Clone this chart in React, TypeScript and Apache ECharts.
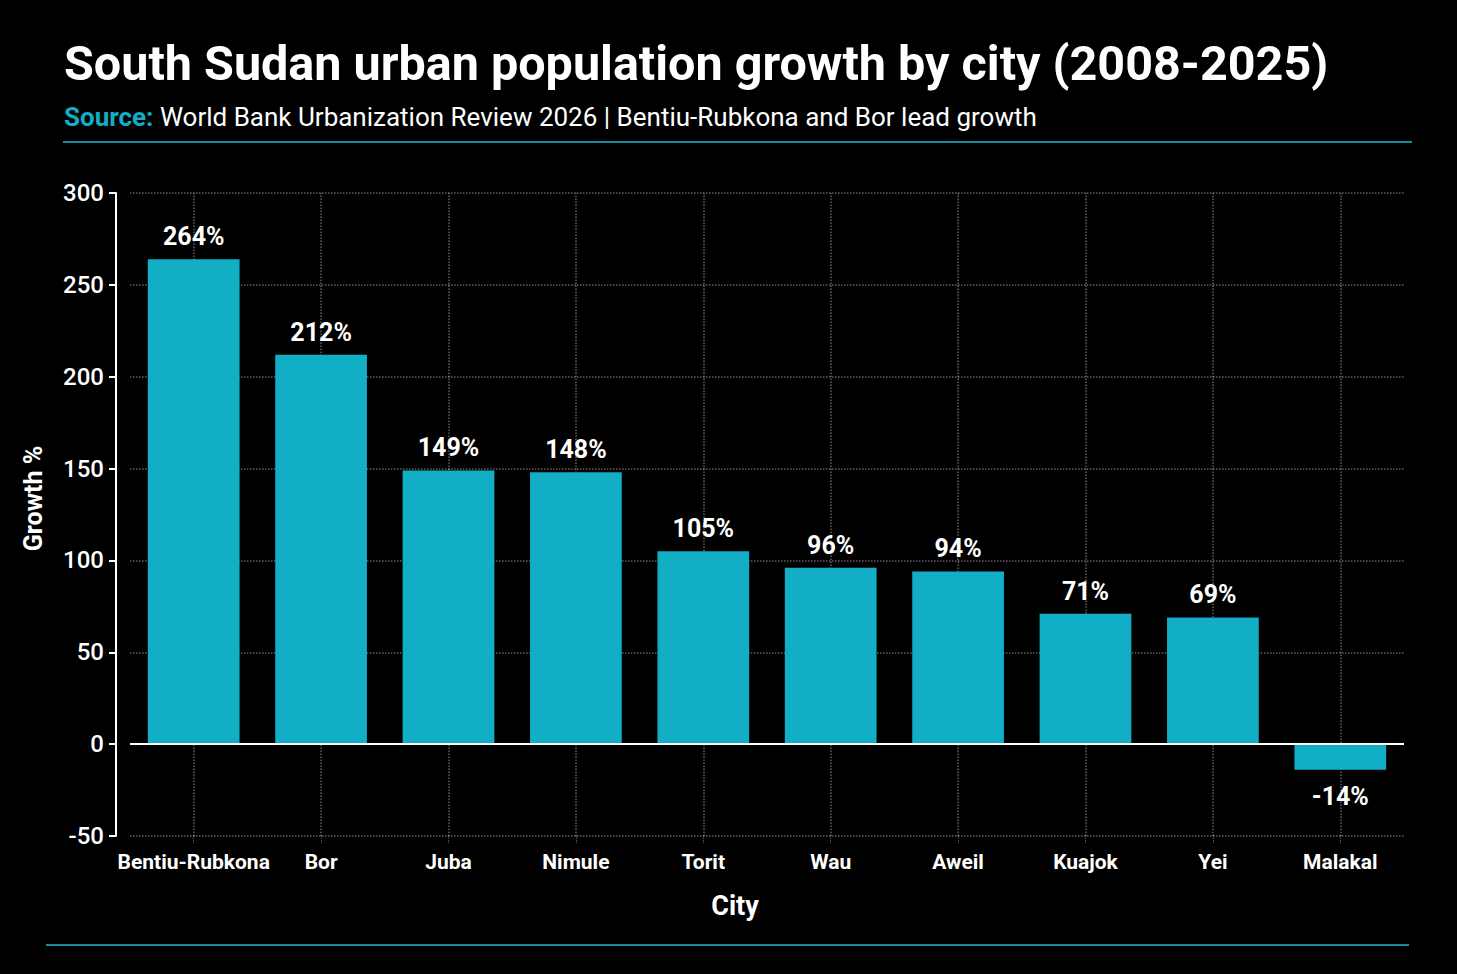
import { useEffect, useRef } from 'react';
import * as echarts from 'echarts';

// data
const cities = ['Bentiu-Rubkona', 'Bor', 'Juba', 'Nimule', 'Torit', 'Wau', 'Aweil', 'Kuajok', 'Yei', 'Malakal'];
const growth = [264, 212, 149, 148, 105, 96, 94, 71, 69, -14];
const yTicks = { min: -50, max: 300, interval: 50 };

const TEAL = '#11aec5';
const FONT = 'Roboto, sans-serif';
const GRID_COLOR = 'rgba(255,255,255,0.38)';

export default function App() {
  const chartRef = useRef<HTMLDivElement>(null);

  useEffect(() => {
    if (!chartRef.current) return;
    document.body.style.margin = '0';
    document.body.style.background = '#000';

    const chart = echarts.init(chartRef.current, null, { renderer: 'svg' });

    const option: echarts.EChartsOption = {
      animation: false,
      backgroundColor: '#000',
      textStyle: { fontFamily: FONT },
      title: {
        text: 'South Sudan urban population growth by city (2008-2025)',
        subtext: '{s|Source:} World Bank Urbanization Review 2026 | Bentiu-Rubkona and Bor lead growth',
        left: 59,
        top: 34,
        itemGap: 16,
        textStyle: {
          color: '#fff',
          fontSize: 48.5,
          fontWeight: 'bold',
          fontFamily: FONT,
        },
        subtextStyle: {
          color: '#fff',
          fontSize: 26,
          fontFamily: FONT,
          rich: {
            s: { color: TEAL, fontWeight: 'bold', fontSize: 26, fontFamily: FONT },
          },
        },
      },
      graphic: [
        { type: 'line', shape: { x1: 63, y1: 142, x2: 1412, y2: 142 }, style: { stroke: '#1a8c9c', lineWidth: 2 } },
        { type: 'line', shape: { x1: 46, y1: 945, x2: 1409, y2: 945 }, style: { stroke: '#1a8c9c', lineWidth: 2 } },
      ],
      grid: {
        left: 130,
        right: 53,
        top: 193,
        bottom: 138,
      },
      xAxis: {
        type: 'category',
        data: cities,
        name: 'City',
        nameLocation: 'middle',
        nameGap: 56,
        nameTextStyle: {
          color: '#fff',
          fontSize: 27,
          fontWeight: 'bold',
          fontFamily: FONT,
          padding: [0, 64, 0, 0],
        },
        axisLine: { show: false, onZero: false },
        axisTick: { show: true, alignWithLabel: true, length: 7, lineStyle: { color: GRID_COLOR, type: 'dotted' } },
        axisLabel: { color: '#fff', fontSize: 21, fontWeight: 'bold', margin: 15, interval: 0, fontFamily: FONT },
        splitLine: { show: false },
      },
      yAxis: {
        type: 'value',
        min: yTicks.min,
        max: yTicks.max,
        interval: yTicks.interval,
        offset: 14,
        name: 'Growth %',
        nameLocation: 'middle',
        nameGap: 70,
        nameTextStyle: {
          color: '#fff',
          fontSize: 25,
          fontWeight: 'bold',
          fontFamily: FONT,
          padding: [0, 0, 0, 32],
        },
        axisLine: { show: true, lineStyle: { color: '#fff', width: 2 } },
        axisTick: { show: true, length: 7, lineStyle: { color: '#fff', width: 2 } },
        axisLabel: { color: '#fff', fontSize: 24, fontWeight: 500, margin: 12, fontFamily: FONT },
        splitLine: { show: true, lineStyle: { color: GRID_COLOR, type: 'dotted', width: 1.5 } },
      },
      series: [
        {
          type: 'line',
          data: [],
          silent: true,
          markLine: {
            z: 1,
            silent: true,
            symbol: 'none',
            label: { show: false },
            lineStyle: { color: GRID_COLOR, type: 'dotted', width: 1.5 },
            data: cities.map((c) => ({ xAxis: c })),
          },
        },
        {
          type: 'bar',
          z: 3,
          barWidth: '72%',
          itemStyle: { color: TEAL },
          label: {
            show: true,
            position: 'top',
            distance: 10,
            color: '#fff',
            fontSize: 25,
            fontWeight: 'bold',
            fontFamily: FONT,
            formatter: '{c}%',
          },
          data: growth.map((v) =>
            v < 0 ? { value: v, label: { position: 'bottom' as const, distance: 14 } } : v
          ),
          markLine: {
            silent: true,
            symbol: 'none',
            label: { show: false },
            lineStyle: { color: '#fff', type: 'solid', width: 2 },
            data: [{ yAxis: 0 }],
          },
        },
      ],
    };

    chart.setOption(option);

    return () => {
      chart.dispose();
    };
  }, []);

  return <div ref={chartRef} style={{ width: 1457, height: 974 }} />;
}
